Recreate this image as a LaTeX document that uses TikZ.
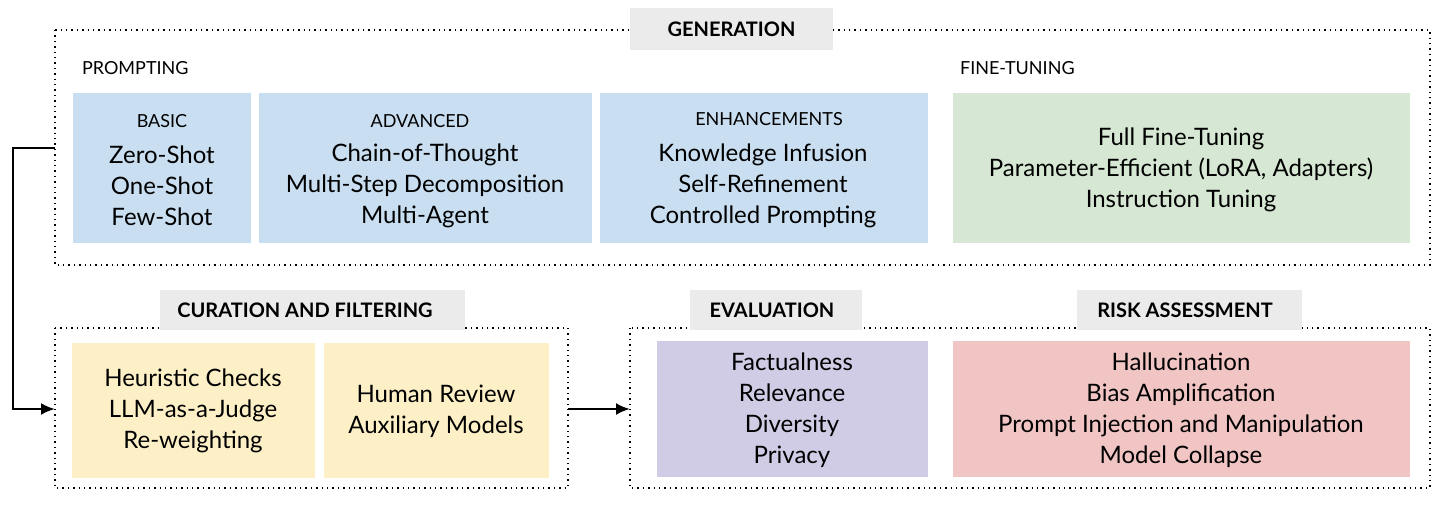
\documentclass[tikz,border=0pt]{standalone}
\usepackage{fontspec}
\setmainfont{Lato}
\usetikzlibrary{arrows.meta}
\definecolor{gbox}{HTML}{EBEBEB}
\definecolor{blu}{HTML}{C9DFF1}
\definecolor{grn}{HTML}{D6E8D3}
\definecolor{yel}{HTML}{FDF0C6}
\definecolor{pur}{HTML}{D1CCE6}
\definecolor{red}{HTML}{F2C5C5}
\begin{document}
\begin{tikzpicture}[x=0.5pt,y=-0.5pt,
  frame/.style={draw, dotted, line width=0.7pt},
  lab/.style={fill=gbox, font=\fontsize{10}{12}\selectfont\bfseries},
  sub/.style={font=\fontsize{9}{11}\selectfont},
  txt/.style={font=\fontsize{12}{15.5}\selectfont, align=center},
  arr/.style={line width=1.2pt, -{Latex[length=7pt,width=6pt]}}]
\useasboundingbox (0,0) rectangle (1451,504);
% generation
\draw[frame] (55,30) rectangle (1430,265);
\fill[gbox] (630,8) rectangle (833,50);
\node[font=\fontsize{10}{12}\selectfont\bfseries] (gen) at (731.5,29) {GENERATION};
\node[sub, anchor=west] (pr) at (75,68) {PROMPTING};
\node[sub, anchor=west] (ft) at (953,68) {FINE-TUNING};
\fill[blu] (73,93) rectangle (251,243);
\fill[blu] (259,93) rectangle (592,243);
\fill[blu] (600,93) rectangle (928,243);
\fill[grn] (953,93) rectangle (1410,243);
\node[sub] (b1) at (162,121) {BASIC};
\node[sub] (b2) at (420,121) {ADVANCED};
\node[sub] (b3) at (769,119) {ENHANCEMENTS};
\node[txt] (t1) at (162,186) {Zero-Shot\\One-Shot\\Few-Shot};
\node[txt] (t2) at (425,186) {Chain-of-Thought\\Multi-Step Decomposition\\Multi-Agent};
\node[txt] (t3) at (763,186) {Knowledge Infusion\\Self-Refinement\\Controlled Prompting};
\node[txt] (t4) at (1181,170) {Full Fine-Tuning\\Parameter-Efficient (LoRA, Adapters)\\Instruction Tuning};
% curation
\draw[frame] (55,328) rectangle (568,488);
\fill[gbox] (160,290) rectangle (465,330);
\node[font=\fontsize{10}{12}\selectfont\bfseries] (cur) at (305,310) {CURATION AND FILTERING};
\fill[yel] (72,343) rectangle (315,478);
\fill[yel] (324,343) rectangle (549,478);
\node[txt] (y1) at (193,411) {Heuristic Checks\\LLM-as-a-Judge\\Re-weighting};
\node[txt] (y2) at (436,411) {Human Review\\Auxiliary Models};
% eval / risk
\draw[frame] (630,328) rectangle (1430,488);
\fill[gbox] (690,290) rectangle (862,330);
\node[font=\fontsize{10}{12}\selectfont\bfseries] (ev) at (772,310) {EVALUATION};
\fill[gbox] (1077,290) rectangle (1302,330);
\node[font=\fontsize{10}{12}\selectfont\bfseries] (ra) at (1185,310) {RISK ASSESSMENT};
\fill[pur] (657,341) rectangle (928,477);
\fill[red] (953,341) rectangle (1410,477);
\node[txt] (p1) at (792,410) {Factualness\\Relevance\\Diversity\\Privacy};
\node[txt] (r1) at (1181,410) {Hallucination\\Bias Amplification\\Prompt Injection and Manipulation\\Model Collapse};
% arrows
\coordinate (a0) at (55,148);
\coordinate (a1) at (13,148);
\coordinate (a2) at (13,409);
\coordinate (a3) at (55,409);
\coordinate (c0) at (568,409);
\coordinate (c1) at (630,409);
\draw[arr] (a0) -- (a1) -- (a2) -- (a3);
\draw[arr] (c0) -- (c1);
\end{tikzpicture}
\end{document}
